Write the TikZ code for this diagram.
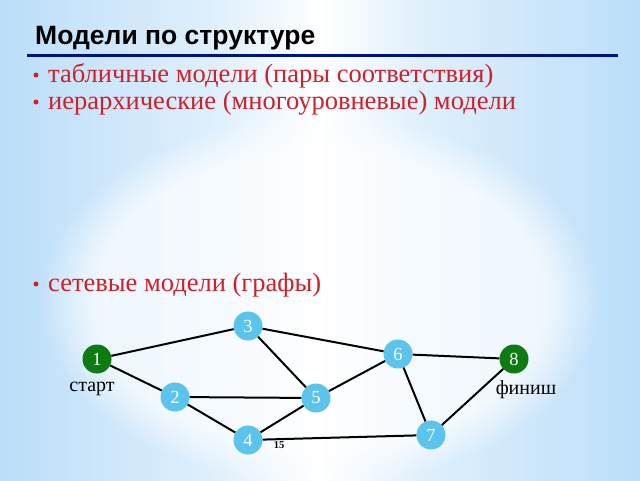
\documentclass[tikz,border=0pt]{standalone}
\usepackage{fontspec}
\setmainfont{Liberation Serif}
\newfontfamily\titlefont{Liberation Sans}
\usetikzlibrary{fadings}
\definecolor{bgblue}{HTML}{96CCF6}
\definecolor{navyline}{HTML}{00137F}
\definecolor{txtred}{HTML}{D0202A}
\definecolor{nodeblue}{HTML}{5CC3EC}
\definecolor{nodegreen}{HTML}{0C7C12}
\pgfdeclarehorizontalshading{bgshade}{100bp}{color(0bp)=(bgblue); color(15bp)=(bgblue!85!white); color(42bp)=(bgblue!30!white); color(50bp)=(white); color(58bp)=(bgblue!30!white); color(85bp)=(bgblue!85!white); color(100bp)=(bgblue)}
\tikzset{
  vert/.style={circle, fill=nodeblue, minimum size=29pt, inner sep=0pt, text=white, font=\fontsize{18.5}{18}\selectfont},
  vertg/.style={vert, fill=nodegreen},
  edge/.style={draw=black, line width=2pt},
  bullettext/.style={anchor=base west, text=txtred, font=\fontsize{26.5}{28}\selectfont, inner sep=0pt},
  bulletdot/.style={circle, fill=txtred, minimum size=5pt, inner sep=0pt},
  lbl/.style={font=\fontsize{20}{20}\selectfont, text=black, inner sep=0pt}
}
\begin{document}
\begin{tikzpicture}[x=1pt,y=-1pt]
\useasboundingbox (0,0) rectangle (640,480);
\shade[shading=bgshade] (0,0) rectangle (640,480);
\fill[white, path fading=circle with fuzzy edge 20 percent, opacity=0.7] (320,300) ellipse (280 and 185);
\node[anchor=base west, inner sep=0pt, font=\titlefont\bfseries\fontsize{26.5}{28}\selectfont] (title) at (35,44) {Модели по структуре};
\draw[navyline, line width=3pt] (27,55) -- (618,55);
\node[bulletdot] (d1) at (36,75) {};
\node[bullettext] (b1) at (48,82) {табличные модели (пары соответствия)};
\node[bulletdot] (d2) at (36,102) {};
\node[bullettext] (b2) at (48,109) {иерархические (многоуровневые) модели};
\node[bulletdot] (d3) at (36,284) {};
\node[bullettext] (b3) at (48,291) {сетевые модели (графы)};
\node[vertg] (n1) at (97,359) {1};
\node[vert] (n2) at (175,397) {2};
\node[vert] (n3) at (248,326) {3};
\node[vert] (n4) at (248,440) {4};
\node[vert] (n5) at (316,398) {5};
\node[vert] (n6) at (398,354) {6};
\node[vert] (n7) at (431,435) {7};
\node[vertg] (n8) at (514,359) {8};
\draw[edge] (n1) -- (n3);
\draw[edge] (n1) -- (n2);
\draw[edge] (n3) -- (n6);
\draw[edge] (n3) -- (n5);
\draw[edge] (n2) -- (n5);
\draw[edge] (n2) -- (n4);
\draw[edge] (n4) -- (n5);
\draw[edge] (n5) -- (n6);
\draw[edge] (n6) -- (n8);
\draw[edge] (n6) -- (n7);
\draw[edge] (n8) -- (n7);
\draw[edge] (n4) -- (n7);
\node[lbl] (start) at (92,389) {старт};
\node[lbl] (finish) at (526,390) {финиш};
\node[font=\bfseries\fontsize{10.5}{10}\selectfont, inner sep=0pt] (pg) at (279,445) {15};
\end{tikzpicture}
\end{document}
